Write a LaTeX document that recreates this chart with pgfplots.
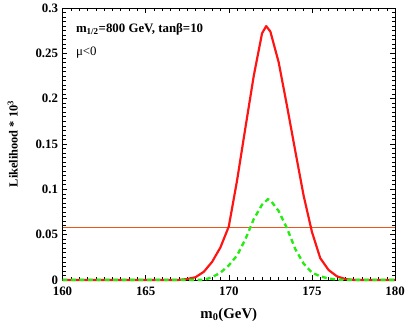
\documentclass[border=0pt]{standalone}
\usepackage{fontspec}
\setmainfont{Liberation Serif}
\usepackage{pgfplots}
\pgfplotsset{compat=1.18}
\definecolor{limorange}{RGB}{235,85,25}
\definecolor{llred}{RGB}{255,20,20}
\definecolor{llgreen}{RGB}{40,235,20}
\begin{document}
\begin{tikzpicture}
\begin{axis}[
    scale only axis,
    width=335bp, height=274bp,
    xmin=160, xmax=180, ymin=0, ymax=0.3,
    xtick distance=5, ytick distance=0.05,
    minor x tick num=9, minor y tick num=9,
    scaled ticks=false,
    tick align=inside,
    major tick length=5bp, minor tick length=3bp,
    tick style={black, line width=0.5pt},
    axis line style={line width=0.6pt},
    /pgf/number format/assume math mode=true,
    /pgf/number format/fixed,
    tick label style={font=\bfseries\fontsize{13}{13}\selectfont},
    xticklabel style={yshift=-4bp},
    yticklabel style={xshift=-1bp},
    xlabel={\textbf{m\textsubscript{0}(GeV)}},
    xlabel style={font=\fontsize{15}{15}\selectfont, yshift=-5bp},
    ylabel={\textbf{Likelihood * 10\textsuperscript{3}}},
    ylabel style={font=\fontsize{12.5}{12.5}\selectfont, yshift=11bp},
    clip=false,
]
% horizontal cut level
\addplot[limorange, line width=1.2pt, mark=none] coordinates {(160,0.058) (180,0.058)};

\addplot[color=llred, line width=2.2pt, line join=round] coordinates {
(160,0) (167,0) (167.5,0.001) (168,0.003) (168.5,0.009) (169,0.02)
(169.5,0.036) (170,0.059) (170.5,0.11) (171,0.168) (171.5,0.225)
(172,0.272) (172.25,0.28) (172.5,0.274) (173,0.24) (173.5,0.192)
(174,0.142) (174.5,0.093) (175,0.053) (175.5,0.024) (176,0.011)
(176.5,0.004) (177,0.001) (177.5,0) (180,0)};

\addplot[color=llgreen, line width=2.4pt, dash pattern=on 5bp off 3.5bp] coordinates {
(160,0) (168.5,0) (169,0.003) (169.5,0.008) (170,0.016) (170.5,0.027)
(171,0.045) (171.5,0.067) (172,0.083) (172.35,0.089) (172.5,0.088)
(173,0.076) (173.5,0.057) (174,0.034) (174.5,0.018) (175,0.008)
(175.5,0.004) (176,0.0015) (176.5,0.0005) (177,0) (180,0)};

\node[anchor=west, font=\bfseries\fontsize{13}{13}\selectfont] at (axis cs:160.6,0.276) {m\textsubscript{1/2}=800 GeV, tanβ=10};
\node[anchor=west, font=\fontsize{13}{13}\selectfont] at (axis cs:160.6,0.251) {μ<0};
\path ([xshift=-63bp,yshift=-45bp]rel axis cs:0,0) rectangle ([xshift=10bp,yshift=8bp]rel axis cs:1,1);
\end{axis}
\end{tikzpicture}
\end{document}
